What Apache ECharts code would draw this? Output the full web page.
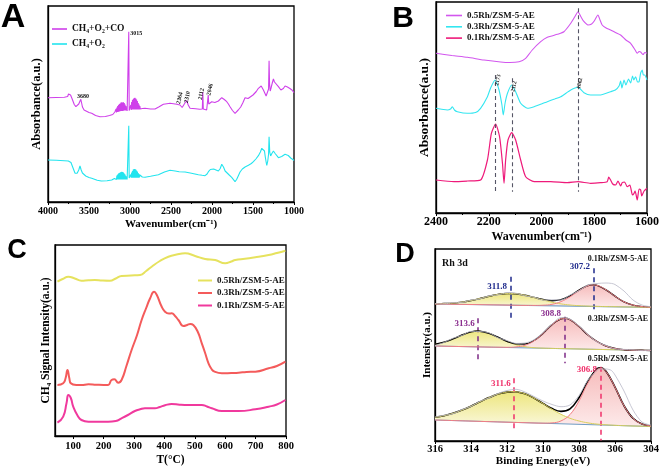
<!DOCTYPE html>
<html><head><meta charset="utf-8">
<script src="https://cdn.jsdelivr.net/npm/echarts@6/dist/echarts.min.js"></script>
<style>html,body{margin:0;padding:0;background:#fff}#c{width:661px;height:468px}</style>
</head><body><div id="c"></div>
<script>
// ---------- Panel A: FTIR (wavenumber, absorbance a.u.) ----------
var aCO = [[4000,104.3],[3900,104.5],[3800,104.7],[3760,105.5],[3750,108],[3725,107],[3705,103],[3680,97.5],[3660,95.3],[3645,95],[3625,98],[3600,102.7],[3590,99],[3580,95],[3560,92],[3500,89.5],[3467,88.7],[3420,86.5],[3366,85.3],[3300,85.5],[3250,86.5],[3210,87.5],
[3190,89],[3185,90],[3180,92],[3175,89.5],[3170,93],[3165,89.5],[3160,94.5],[3155,90],[3150,96],[3145,90],[3140,97],[3135,90.5],[3130,98],[3125,90.5],[3120,98.5],[3115,91],[3110,99.5],[3105,91],[3100,99.7],[3095,91],[3090,99.5],[3085,91],[3080,99.7],[3075,91.5],[3070,99],[3065,91.5],[3060,97.5],[3055,91.5],[3050,96],[3045,91.5],[3040,94.5],[3035,91],[3030,93],[3025,91],
[3020,91],[3015,170.3],[3010,91.5],[3000,92],[2995,92],[2990,97],[2985,92],[2980,100],[2975,92.5],[2970,102],[2965,92.5],[2960,103],[2955,92.5],[2950,104],[2945,92.5],[2940,104.3],[2935,92.5],[2930,103.5],[2925,92.5],[2920,102.5],[2915,92.5],[2910,101],[2905,92.5],[2900,99],[2895,92.5],[2890,97.5],[2885,92.5],[2880,96],[2875,93],[2870,94.5],[2860,93.5],[2850,93.5],
[2817,93.7],[2750,93],[2695,93],[2650,95],[2593,97.7],[2550,98.3],[2512,98.7],[2470,98.3],[2430,97.7],[2390,97],[2372,96.5],[2364,94.5],[2350,96.5],[2330,99],[2308,101.3],[2290,97],[2268,93.7],[2200,93.3],[2150,92.8],[2126,92.5],[2118,93],[2112,110],[2106,93],[2090,92.3],[2065,92],[2052,93],[2046,107],[2040,98],[2025,99],[2003,100.3],[1965,99.5],[1922,101],[1881,104.3],[1850,102.5],[1820,100.3],[1800,98],[1780,95.3],[1750,91.5],[1719,88.7],[1700,89.5],[1680,92],[1650,95],[1625,99],[1597,104.3],[1580,104],[1560,103.5],[1540,104.5],[1500,107],[1460,110.5],[1434,113.7],[1400,116],[1385,115.5],[1373,112],[1355,110],[1340,106],[1332,104.3],[1320,107],[1310,113],[1304,141.3],[1298,118],[1290,111],[1280,114],[1265,119],[1251,123],[1238,120],[1225,118.5],[1190,115.3],[1160,112],[1130,113.5],[1109,116],[1080,115],[1050,113.5],[1025,112],[1007,110.3],[1000,109.3]];
var aO2 = [[4000,42],[3900,41.7],[3800,41.3],[3752,41],[3720,39.5],[3690,33],[3670,28.7],[3645,28.7],[3625,32],[3610,36],[3595,32],[3580,29],[3540,26],[3500,24.5],[3467,23.7],[3400,21.7],[3350,21],[3280,21.3],[3223,22],
[3200,22.5],[3190,23.5],[3185,22.5],[3180,24.5],[3175,22.5],[3170,25.5],[3165,22.5],[3160,26.5],[3155,22.5],[3150,27.5],[3145,22.5],[3140,28.5],[3135,22.5],[3130,29],[3125,22.5],[3120,29.5],[3115,22.5],[3110,30],[3105,22.5],[3100,30.3],[3095,22.5],[3090,30],[3085,22.5],[3080,29.5],[3075,22.5],[3070,28.5],[3065,22.5],[3060,27.5],[3055,22.5],[3050,26],[3045,22.5],[3040,25],[3035,22.5],[3030,24],
[3020,23.5],[3015,76.3],[3010,24],[3000,24.3],[2995,24.3],[2990,27.5],[2985,24.3],[2980,29.5],[2975,24.3],[2970,31],[2965,24.3],[2960,32.5],[2955,24.3],[2950,33],[2945,24.3],[2940,33],[2935,24.3],[2930,32.5],[2925,24.3],[2920,31.5],[2915,24.3],[2910,30.5],[2905,24.3],[2900,29],[2895,24.3],[2890,28],[2885,24.5],[2880,27],[2870,25.5],[2850,25],
[2817,24.7],[2750,25.7],[2654,27.3],[2580,30],[2512,31.7],[2450,31],[2400,30.3],[2328,30],[2250,28.7],[2166,27.3],[2120,26.7],[2085,26.3],[2060,28],[2044,30.3],[2020,32.5],[2003,33.7],[1980,33],[1962,32],[1922,31],[1900,33.5],[1881,37.7],[1860,35],[1840,31],[1820,29.3],[1790,27],[1760,24.7],[1719,20.3],[1700,22.5],[1680,26],[1658,30],[1630,33],[1597,35],[1556,36.7],[1520,38.5],[1495,40.3],[1465,43],[1434,46.3],[1410,50],[1393,53.7],[1373,55.3],[1360,51],[1352,46],[1340,40],[1332,36.7],[1320,41],[1310,48],[1304,65.3],[1296,50],[1285,46],[1270,48.5],[1251,51],[1230,48.5],[1190,44.3],[1150,45.5],[1109,47.7],[1070,46.5],[1040,44],[1007,42],[1000,41.5]];

// ---------- Panel B: CO-DRIFTS ----------
var b05 = [[2400,159.7],[2340,157.5],[2281,155.7],[2218,153],[2155,151],[2120,150.5],[2085,151.3],[2060,154.7],[2035,163],[2003,171.3],[1978,175.7],[1955,177.5],[1940,178.7],[1915,181.3],[1889,189.7],[1870,198],[1862,201.3],[1850,196],[1842,192.3],[1824,188],[1810,189],[1800,192],[1786,198],[1778,193],[1770,188],[1755,185],[1738,183],[1720,180.5],[1700,178],[1680,173],[1662,169.7],[1645,163],[1637,159.7],[1630,161.5],[1624,161],[1615,158.5],[1608,160.5],[1600,159.7]];
var b03 = [[2400,104.7],[2357,103],[2345,104],[2338,106.3],[2330,103],[2319,101.3],[2281,99.7],[2250,100.5],[2231,104.7],[2205,116.3],[2193,125],[2176,133],[2161,123],[2150,108],[2145,98],[2138,110],[2129,119.7],[2113,128],[2098,121.3],[2079,109.7],[2053,104.7],[2028,106.3],[2000,109],[1978,111.3],[1950,114],[1927,116.3],[1889,123],[1862,125.7],[1839,120.3],[1814,118],[1776,118],[1738,121.3],[1720,123],[1706,127],[1700,132],[1695,125],[1687,133],[1680,128],[1670,134],[1662,130],[1655,137],[1650,133],[1643,136.3],[1636,131],[1630,131.3],[1624,140],[1618,143],[1614,138],[1609,138],[1600,133]];
var b01 = [[2400,33],[2332,31.3],[2281,32],[2231,33],[2205,53],[2190,79.7],[2174,89],[2159,76.3],[2148,49.7],[2142,29.7],[2136,53],[2127,73],[2113,80.3],[2098,73],[2079,53],[2060,36.3],[2028,31.3],[1965,31.3],[1902,30.3],[1862,31.3],[1814,29.7],[1776,30.3],[1751,31.3],[1745,36],[1738,33],[1730,29],[1719,28],[1710,32],[1700,27],[1694,30.3],[1685,31],[1675,26.3],[1665,28],[1655,18],[1649,19.7],[1645,22],[1637,13],[1630,24],[1624,23],[1620,17],[1611,22],[1600,24.7]];

// ---------- Panel C: CH4-TPSR ----------
var c05 = [[48,154.3],[65,157],[84,159.3],[105,157.5],[127,155.3],[150,155.8],[171,156],[195,155.5],[221,155.3],[240,157.5],[259,160],[290,160.5],[320,161],[340,165],[358,169.3],[385,175],[413,179.3],[440,181.5],[468,182.7],[501,180],[534,177],[567,176],[600,172.7],[620,174.5],[633,176],[665,177.3],[699,178.7],[743,181],[770,183],[798,185.3]];
var c03 = [[48,51],[67,52.7],[75,58],[81,66],[87,58],[92,52.7],[110,51],[127,51],[150,51.7],[175,51.3],[200,51],[215,51],[226,56],[235,56.7],[248,53.3],[259,56],[275,70],[292,86],[310,101],[325,116],[340,128],[353,137.7],[366,144.3],[375,141],[390,130],[402,124.3],[415,122.5],[424,122.7],[435,120],[446,116],[463,110],[475,111],[485,112],[495,111],[510,104],[523,92.7],[535,82],[545,72.7],[555,67],[565,64.3],[589,62.7],[620,63],[644,63.3],[670,64],[699,64.3],[743,67.7],[770,70],[798,74.3]];
var c01 = [[48,13.3],[67,19.3],[78,33],[84,41],[92,38],[100,29.3],[115,20],[127,16],[150,14.3],[171,14.3],[215,14.3],[240,15],[259,17.7],[280,21],[303,25],[320,26.7],[336,27.7],[369,27.7],[385,29],[402,30.7],[424,32],[450,31.3],[479,31],[523,31],[540,29.5],[556,27.7],[589,25],[644,25],[699,26.7],[743,29.3],[770,31.5],[798,36]];
var cTicks = [100,200,300,400,500,600,700,800];

// ---------- Panel D: XPS Rh 3d ----------
var dTopBase = [[316,137.0],[304,133.7]];
var dTopYellow = [[316,137.2],[315.5,137.4],[315,137.9],[314.5,138.9],[314,140.5],[313.5,142.5],[313,144.7],[312.5,146.6],[312,147.5],[311.8,147.5],[311.5,147.3],[311,145.7],[310.5,143.5],[310,141.1],[309.5,138.8],[309,137.1],[308.5,136.0],[308,135.3],[307.5,134.9],[307,134.6],[306.5,134.4],[306,134.3],[305.5,134.1],[305,134.0],[304.5,133.8],[304,133.7]];
var dTopPink = [[316,137.0],[315,136.7],[314,136.5],[313,136.2],[312,135.9],[311,135.6],[310.5,135.6],[310,135.8],[309.5,136.7],[309,139.4],[308.5,144.2],[308,150.4],[307.5,155.3],[307.2,156.1],[307,155.7],[306.5,151.2],[306,144.8],[305.5,139.2],[305,135.9],[304.5,134.4],[304,133.8]];
var dTopEnv = [[316,137.2],[315.5,137.5],[315,137.9],[314.5,138.9],[314,140.5],[313.5,142.5],[313,144.7],[312.5,146.6],[312,147.5],[311.8,147.5],[311.5,147.3],[311,145.7],[310.5,143.6],[310,141.5],[309.5,140.3],[309,141.4],[308.5,145.2],[308,150.9],[307.5,155.5],[307.2,156.2],[307,155.7],[306.5,151.2],[306,144.8],[305.5,139.2],[305,135.9],[304.5,134.4],[304,133.8]];
var dTopRaw = [[316,137.5],[315.5,137.0],[315,138.5],[314.5,138.6],[314,141.0],[313.5,142.0],[313,145.2],[312.5,146.0],[312,148.3],[311.5,147.8],[311,145.0],[310.5,143.9],[310,140.8],[309.5,141.2],[309,141.0],[308.5,146.0],[308,150.2],[307.5,156.0],[307,157.5],[306.5,158.0],[306.2,157.6],[306,156.5],[305.5,150.0],[305,141.0],[304.5,136.0],[304,134.2]];
var dMidBase = [[316,95.0],[304,90.5]];
var dMidYellow = [[316,96.8],[315.5,98.8],[315,102.1],[314.5,106.0],[314,109.1],[313.6,110.0],[313.5,109.8],[313,107.7],[312.5,103.7],[312,99.5],[311.5,96.3],[311,94.3],[310.5,93.3],[310,92.85],[309.5,92.6],[309,92.4],[308,92.0],[307,91.6],[306,91.25],[305,90.9],[304,90.5]];
var dMidPink = [[316,95.0],[315,94.6],[314,94.25],[313,93.9],[312.5,93.8],[312,93.7],[311.5,94.1],[311,95.8],[310.5,100.1],[310,107.5],[309.5,116.4],[309,122.2],[308.8,122.7],[308.5,121.3],[308,114.5],[307.5,106.0],[307,99.5],[306.5,95.0],[306,92.5],[305.5,91.3],[305,90.9],[304.5,90.7],[304,90.5]];
var dMidEnv = [[316,96.8],[315.5,98.8],[315,102.1],[314.5,106.0],[314,109.1],[313.6,110.0],[313.5,109.8],[313,107.7],[312.5,103.8],[312,99.7],[311.5,97.1],[311,97.0],[310.5,100.5],[310,107.6],[309.5,116.4],[309,122.2],[308.8,122.7],[308.5,121.3],[308,114.5],[307.5,106.0],[307,99.5],[306.5,95.0],[306,92.5],[305.5,91.3],[305,90.9],[304.5,90.7],[304,90.5]];
var dMidRaw = [[316,95.5],[315.5,98.5],[315,102.8],[314.5,105.6],[314,109.6],[313.5,109.5],[313,108.2],[312.5,103.2],[312,100.4],[311.5,97.6],[311,98.0],[310.5,101.3],[310,108.4],[309.5,117.0],[309,123.5],[308.8,123.2],[308.5,122.0],[308,115.2],[307.5,106.5],[307,99.0],[306.5,95.6],[306,92.0],[305.5,91.6],[305,91.2],[304.5,90.4],[304,90.8]];
var dBotBase = [[316,21.0],[304,14.5]];
var dBotYellow = [[316,23.7],[315.5,25.3],[315,27.7],[314.5,30.9],[314,34.8],[313.5,39.2],[313,43.4],[312.5,46.9],[312,48.9],[311.6,49.3],[311.5,49.2],[311,47.2],[310.5,42.9],[310,37.5],[309.5,31.8],[309,26.7],[308.5,22.7],[308,20.0],[307.5,18.1],[307,16.9],[306.5,16.2],[306,15.7],[305.5,15.3],[305,15.0],[304.5,14.8],[304,14.5]];
var dBotPink = [[316,21.0],[314,19.9],[312,18.8],[311,18.3],[310,17.85],[309.5,18.1],[309,20.1],[308.5,26.4],[308,40.0],[307.5,58.3],[307,71.4],[306.8,72.7],[306.5,69.5],[306,53.8],[305.5,35.3],[305,22.7],[304.5,17.0],[304,15.0]];
var dBotEnv = [[316,23.7],[315.5,25.3],[315,27.7],[314.5,30.9],[314,34.8],[313.5,39.2],[313,43.4],[312.5,46.9],[312,48.9],[311.6,49.3],[311.5,49.2],[311,47.2],[310.5,42.9],[310,37.6],[309.5,32.4],[309,29.6],[308.5,32.2],[308,43.3],[307.5,60.0],[307,72.2],[306.8,73.3],[306.5,69.8],[306,53.9],[305.5,35.3],[305,22.7],[304.5,17.0],[304,15.0]];
var dBotRaw = [[316,24.0],[315.5,25.8],[315,27.2],[314.5,31.5],[314,34.5],[313.5,39.8],[313,43.0],[312.5,47.5],[312,50.5],[311.5,51.7],[311,49.0],[310.5,44.5],[310,40.0],[309.5,36.5],[309,34.3],[308.5,36.0],[308,45.5],[307.5,61.0],[307,70.5],[306.8,72.0],[306.5,72.0],[306.2,70.5],[306,66.0],[305.5,50.0],[305,31.0],[304.5,19.0],[304,15.8]];

var namesA = ['CH₄+O₂+CO','CH₄+O₂'];
var namesB = ['0.5Rh/ZSM-5-AE','0.3Rh/ZSM-5-AE','0.1Rh/ZSM-5-AE'];
var namesC = namesB.map(function(n){return n+'\u200b';});

var FF = '"Liberation Serif","Times New Roman",serif';
var series = [];
function add(o){ series.push(o); return o; }
function ln(gi, name, data, color, width, smooth, z){
  return add({type:'line', name:name, xAxisIndex:gi, yAxisIndex:gi, data:data, symbol:'none', smooth:smooth||false, z:z||3,
    lineStyle:{color:color, width:width}, itemStyle:{color:color}, silent:true, animation:false});
}
function fill(gi, data, base, c1, c2){
  return add({type:'custom', xAxisIndex:gi, yAxisIndex:gi, data:data, z:1, silent:true, animation:false,
    renderItem:function(params, api){
      if(params.dataIndex!==0) return null;
      var pts=[]; for(var i=0;i<data.length;i++) pts.push(api.coord(data[i]));
      pts.push(api.coord(base[1])); pts.push(api.coord(base[0]));
      return {type:'polygon', shape:{points:pts}, style:{fill:new echarts.graphic.LinearGradient(0,0,0,1,[{offset:0,color:c1},{offset:1,color:c2}])}};
    }});
}
function marks(items, color, size){
  return {symbol:'circle', symbolSize:1, itemStyle:{color:'rgba(0,0,0,0)'}, silent:true, animation:false,
    label:{show:true, formatter:'{b}', color:color, fontSize:size, fontWeight:'bold', fontFamily:FF},
    data:items.map(function(it){return {name:it[0], coord:[it[1],it[2]], label:{rotate:it[3]||0, position:it[4]||'inside', distance:3}};})};
}
function vlines(items, color, width, dash){
  return {symbol:['none','none'], silent:true, animation:false, label:{show:false}, lineStyle:{color:color, width:width, type:dash},
    data:items.map(function(l){return [{coord:[l[0],l[1]]},{coord:[l[0],l[2]]}];})};
}

// A
var sA1 = ln(0, namesA[0], aCO, '#cf3fea', 1.1);
sA1.markPoint = marks([['3680',3573,105.5],['3015',2925,168.5],['2364',2392,104,78],['2310',2300,105,78],['2112',2130,108,78],['2046',2024,112.5,78]], '#111', 6);
ln(0, namesA[1], aO2, '#22e4ee', 1.1);
// B
ln(1, namesB[0], b05, '#d256ee', 1.1, 0.2);
ln(1, namesB[1], b03, '#33e6f0', 1.1, 0.2);
var sB3 = ln(1, namesB[2], b01, '#ee1a7a', 1.2, 0.2);
sB3.markLine = vlines([[2176,138,19.7],[2112,134.7,21.3],[1862,204.7,21.3]], '#555566', 1.1, [4,3]);
sB3.markPoint = marks([['2173',2165,133,78],['2112',2104,126.5,78],['1862',1855,129.7,78]], '#222', 5.5);
// C
ln(2, namesC[0], c05, '#e6e25e', 2, 0.5);
ln(2, namesC[1], c03, '#f45b5b', 2, 0.5);
ln(2, namesC[2], c01, '#f0399d', 2, 0.5);
// D
var YF1='#ede67e', YF2='#faf8dc', PF1='#f6bcbc', PF2='#fdeaea';
var YL='#d9cf5a', PL='#f27e84', BL='#6f9cc4', RAW='#b9b9c8';
fill(3, dTopYellow, dTopBase, YF1, YF2); fill(3, dTopPink, dTopBase, PF1, PF2);
fill(3, dMidYellow, dMidBase, YF1, YF2); fill(3, dMidPink, dMidBase, PF1, PF2);
fill(3, dBotYellow, dBotBase, YF1, YF2); fill(3, dBotPink, dBotBase, PF1, PF2);
[dTopBase, dMidBase, dBotBase].forEach(function(b){ ln(3, 'base', b, BL, 1.2, false, 3); });
var eT = ln(3, 'envTop', dTopEnv, '#000', 1.4, 0.4, 4);
var eM = ln(3, 'envMid', dMidEnv, '#000', 1.4, 0.4, 6);
var eB = ln(3, 'envBot', dBotEnv, '#000', 1.6, 0.4, 4);
ln(3, 'yT', dTopYellow, YL, 1, 0.4, 5); ln(3, 'pT', dTopPink, PL, 1, 0.4, 7);
ln(3, 'yM', dMidYellow, YL, 1, 0.4, 5); ln(3, 'pM', dMidPink, PL, 1, 0.4, 7);
ln(3, 'yB', dBotYellow, YL, 1, 0.4, 5); ln(3, 'pB', dBotPink, PL, 1, 0.4, 7);
ln(3, 'rT', dTopRaw, RAW, 0.8, 0.3, 8); ln(3, 'rM', dMidRaw, RAW, 0.8, 0.3, 8); ln(3, 'rB', dBotRaw, RAW, 0.8, 0.3, 8);
eT.markLine = vlines([[311.8,164.3,121],[307.2,172.7,127.7]], '#1f2a8c', 1.5, [5,4]);
eT.markPoint = marks([['311.8',311.8,154.3,0,'left'],['307.2',307.2,174,0,'left']], '#1f2a8c', 9);
eM.markLine = vlines([[313.6,122.7,81],[308.8,124.3,77.7]], '#7e2a86', 1.5, [5,4]);
eM.markPoint = marks([['313.6',313.6,117,0,'left'],['308.8',308.8,127,0,'left']], '#8a2d8e', 9);
eB.markLine = vlines([[311.6,62.7,9.3],[306.8,74.3,0.5]], '#f0306a', 1.5, [5,4]);
eB.markPoint = marks([['311.6',311.6,57,0,'left'],['306.8',306.8,71,0,'left']], '#f0306a', 9);

var plain = function(v){ return String(v); };
function xa(gi, o){
  var base = {gridIndex:gi, type:'value', axisLine:{show:true, onZero:false, lineStyle:{color:'#000', width:1.3}},
    axisTick:{show:true, length:3, lineStyle:{color:'#000', width:1}}, splitLine:{show:false},
    nameLocation:'middle'};
  for (var k in o) base[k]=o[k];
  return base;
}
function ya(gi, max, name, gap, size){
  return {gridIndex:gi, type:'value', min:0, max:max, axisLine:{show:true, onZero:false, lineStyle:{color:'#000', width:1.3}},
    axisTick:{show:false}, axisLabel:{show:false}, splitLine:{show:false},
    name:name, nameLocation:'middle', nameGap:gap, nameTextStyle:{color:'#000', fontFamily:FF, fontWeight:'bold', fontSize:size}};
}
var lbl = function(sz, m){ return {color:'#000', fontFamily:FF, fontWeight:'bold', fontSize:sz, margin:m, formatter:plain}; };
var nts = function(sz){ return {color:'#000', fontFamily:FF, fontWeight:'bold', fontSize:sz}; };

var gridBase = {show:true, borderColor:'#000', borderWidth:1.3, containLabel:false, outerBoundsMode:'none'};
function g(l,t,w,h){ var o={left:l, top:t, width:w, height:h}; for(var k in gridBase) o[k]=gridBase[k]; return o; }

var legendText = function(sz){ return {color:'#111', fontFamily:FF, fontWeight:'bold', fontSize:sz, lineHeight:9}; };
var letter = function(t,x,y,s){ return {type:'text', x:x, y:y, silent:true, style:{text:t, font:'bold '+s+'px "Liberation Sans", Arial, sans-serif', fill:'#000', align:'center', verticalAlign:'middle'}}; };
var dtext = function(t,x,y,al,s){ return {type:'text', x:x, y:y, silent:true, style:{text:t, font:'bold '+s+'px '+FF, fill:'#111', align:al, verticalAlign:'middle'}}; };

var cLabel = lbl(10.5,5); cLabel.customValues = cTicks;
var option = {
  animation:false,
  backgroundColor:'#fff',
  grid:[g(48,6,246,196), g(436,2,211,211), g(55,245,231,191), g(435,249,216,192)],
  xAxis:[
    xa(0,{min:1000, max:4000, interval:500, inverse:true, minorTick:{show:true, splitNumber:2, length:2, lineStyle:{color:'#000'}}, axisLabel:lbl(10,4), name:'Wavenumber(cm⁻¹)', nameGap:17, nameTextStyle:nts(11)}),
    xa(1,{min:1600, max:2400, interval:200, inverse:true, minorTick:{show:true, splitNumber:2, length:2, lineStyle:{color:'#000'}}, axisLabel:lbl(12,3), name:'Wavenumber(cm⁻¹)', nameGap:18, nameTextStyle:nts(12)}),
    xa(2,{min:40, max:800, axisLabel:cLabel, axisTick:{show:true, length:3, customValues:cTicks, lineStyle:{color:'#000'}}, name:'T(°C)', nameGap:18, nameTextStyle:nts(11.5)}),
    xa(3,{min:304, max:316, interval:2, inverse:true, axisLabel:lbl(10.5,3), name:'Binding Energy(eV)', nameGap:13, nameTextStyle:nts(11)})
  ],
  yAxis:[ya(0,196,'Absorbance(a.u.)',5,12.5), ya(1,211,'Absorbance(a.u.)',4,13.5), ya(2,191,'CH₄ Signal Intensity(a.u.)',3,11.5), ya(3,192,'Intensity(a.u.)',2,11)],
  legend:[
    {orient:'vertical', left:52, top:24, padding:0, icon:'rect', itemWidth:15, itemHeight:1.6, itemGap:5, data:namesA, textStyle:legendText(9.5), selectedMode:false},
    {orient:'vertical', left:446, top:11, padding:0, icon:'rect', itemWidth:16, itemHeight:1.6, itemGap:2.3, data:namesB, textStyle:legendText(9), selectedMode:false},
    {orient:'vertical', left:198, top:276, padding:0, icon:'rect', itemWidth:14, itemHeight:2, itemGap:3.5, data:namesC, textStyle:legendText(9), selectedMode:false,
     formatter:function(n){return n.replace('\u200b','');}}
  ],
  graphic:[
    letter('A',13,18,34), letter('B',403,19,30), letter('C',17,251,27), letter('D',405,255,27),
    dtext('Rh 3d',442,263,'left',10),
    dtext('0.1Rh/ZSM-5-AE',648,259,'right',8),
    dtext('0.3Rh/ZSM-5-AE',648,319,'right',8),
    dtext('0.5Rh/ZSM-5-AE',648,359,'right',8)
  ],
  series:series
};
var chart = echarts.init(document.getElementById('c'), null, {renderer:'canvas'});
chart.setOption(option);
</script></body></html>
